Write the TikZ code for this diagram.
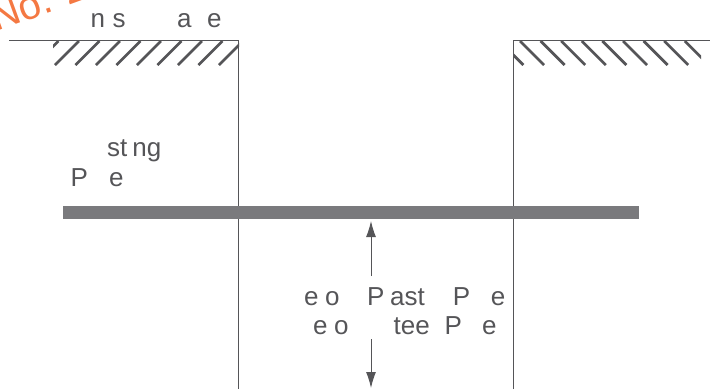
\documentclass[tikz,border=0pt]{standalone}
\usepackage{fontspec}
\setmainfont{Liberation Sans}
\usetikzlibrary{arrows.meta}
\definecolor{ink}{RGB}{85,85,88}
\definecolor{bar}{RGB}{122,122,125}
\definecolor{wm}{RGB}{244,120,66}
\tikzset{
  wall/.style={draw=ink,line width=1pt},
  hatchline/.style={draw=ink,line width=2.7pt},
  lbl/.style={text=ink,font=\fontsize{26}{26}\selectfont,inner sep=0pt,anchor=base west},
  dim/.style={draw=ink,line width=1pt,-{Latex[length=16pt,width=10pt]}}
}
\begin{document}
\begin{tikzpicture}[x=1pt,y=-1pt]
\useasboundingbox (0,0) rectangle (710,389);
% watermark
\begin{scope}
\clip (0,0) rectangle (710,389);
\node[text=wm,font=\fontsize{40}{40}\selectfont,rotate=20,inner sep=0pt,anchor=base west] (mark) at (-4,32) {No. 2};
\end{scope}
% texts
\node[lbl] (t1) at (90.5,27) {n\hspace{7.5pt}s\hspace{51.5pt}a\hspace{15.5pt}e};
\node[lbl] (t2) at (107,156) {st\hspace{5pt}ng};
\node[lbl] (t3) at (70.5,186) {P\hspace{21pt}e};
\node[lbl] (t4) at (304,305) {e\hspace{6.5pt}o\hspace{27.5pt}P\hspace{5.7pt}ast\hspace{28pt}P\hspace{20.7pt}e};
\node[lbl] (t5) at (313,334) {e\hspace{6.5pt}o\hspace{45pt}tee\hspace{15pt}P\hspace{20pt}e};
% walls
\coordinate (lt) at (9,40.5);
\coordinate (lc) at (238.5,40.5);
\coordinate (lb) at (238.5,389);
\coordinate (rc) at (513,40.5);
\coordinate (rt) at (710,40.5);
\coordinate (rb) at (513,389);
% hatching left
\begin{scope}
\clip (53,41) rectangle (239,65);
\foreach \x in {34.5,55,...,230}
  \draw[hatchline] (\x,65) -- (\x+24,41);
\end{scope}
% hatching right
\begin{scope}
\clip (513,41) rectangle (701,65);
\foreach \x in {499.4,520,...,700}
  \draw[hatchline] (\x,41) -- (\x+24,65);
\end{scope}
\draw[wall] (lt) -- (lc) -- (lb);
\draw[wall] (rb) -- (rc) -- (rt);
% plate
\node[fill=bar,minimum width=576pt,minimum height=13pt,inner sep=0pt,anchor=north west] (plate) at (63,206) {};
% dimension arrows
\coordinate (a1) at (371,276);
\coordinate (a2) at (371,221);
\coordinate (b1) at (371,339);
\coordinate (b2) at (371,388);
\draw[dim] (a1) -- (a2);
\draw[dim] (b1) -- (b2);
\end{tikzpicture}
\end{document}
